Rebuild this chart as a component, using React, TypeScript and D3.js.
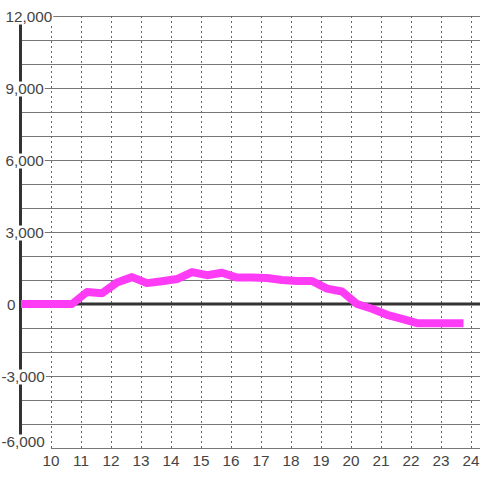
import React, { useEffect, useRef } from "react";
import * as d3 from "d3";

const hours: number[] = [9.0, 9.2, 9.7, 10.2, 10.7, 11.2, 11.7, 12.2, 12.7, 13.2, 13.7, 14.2, 14.7, 15.2, 15.7, 16.2, 16.7, 17.2, 17.7, 18.2, 18.7, 19.2, 19.7, 20.2, 20.7, 21.2, 21.7, 22.2, 22.7, 23.2, 23.75];
const values: number[] = [0, 0, 0, 0, 0, 500, 450, 900, 1120, 870, 950, 1040, 1330, 1200, 1300, 1100, 1100, 1080, 1000, 960, 960, 640, 520, 0, -200, -450, -620, -800, -800, -800, -800];
const xTicks: number[] = [10, 11, 12, 13, 14, 15, 16, 17, 18, 19, 20, 21, 22, 23, 24];
const yLabelTicks: number[] = [12000, 9000, 6000, 3000, 0, -3000, -6000];
const yGridTicks: number[] = d3.range(-6000, 12001, 1000);

export default function App() {
  const ref = useRef<SVGSVGElement>(null);
  useEffect(() => {
    const svg = d3.select(ref.current);
    svg.selectAll("*").remove();
    const x = d3.scaleLinear().domain([9, 24.3]).range([21, 480]);
    const y = d3.scaleLinear().domain([-6000, 12000]).range([448, 16]);
    const fmt = d3.format(",");

    // horizontal grid
    svg.append("g").selectAll("line").data(yGridTicks.filter(v => v !== 0)).join("line")
      .attr("x1", v => (v === -6000 ? x(10) : 20)).attr("x2", 480)
      .attr("y1", v => y(v) + 0.5).attr("y2", v => y(v) + 0.5)
      .attr("stroke", "#777").attr("stroke-width", 1);

    // vertical dashed grid
    svg.append("g").selectAll("line").data(xTicks).join("line")
      .attr("x1", v => Math.round(x(v)) + 0.5).attr("x2", v => Math.round(x(v)) + 0.5)
      .attr("y1", y(12000)).attr("y2", y(-6000))
      .attr("stroke", "#666").attr("stroke-width", 1).attr("stroke-dasharray", "2,3");

    // zero line
    svg.append("line").attr("x1", 20).attr("x2", 480).attr("y1", y(0)).attr("y2", y(0))
      .attr("stroke", "#333").attr("stroke-width", 3);

    // y axis
    svg.append("line").attr("x1", 20.5).attr("x2", 20.5).attr("y1", y(12000)).attr("y2", y(-6000))
      .attr("stroke", "#333").attr("stroke-width", 3);

    // data line
    const line = d3.line<number>().x((_, i) => x(hours[i])).y(d => y(d));
    svg.append("path").datum(values).attr("d", line)
      .attr("fill", "none").attr("stroke", "#ff3cf5").attr("stroke-width", 8)
      .attr("stroke-linejoin", "round");

    // y labels with white backgrounds
    const yl = svg.append("g");
    yLabelTicks.forEach(v => {
      const cy = v === -6000 ? y(v) - 7 : y(v);
      const sx = v < 0 ? 1.5 : v === 0 ? 7 : 5.5;
      const g = yl.append("g");
      const rect = g.append("rect").attr("fill", "#fff");
      const t = g.append("text").attr("x", sx).attr("y", cy + 6)
        .attr("font-family", "'Liberation Sans', Arial, sans-serif").attr("font-size", 15.3)
        .attr("fill", "#444").text(fmt(v).replace("−", "-"));
      const w = (t.node() as SVGTextElement).getComputedTextLength();
      rect.attr("x", sx).attr("y", cy - 6.5).attr("width", w + 1).attr("height", 15);
    });

    // x labels
    svg.append("g").selectAll("text").data(xTicks).join("text")
      .attr("x", v => x(v)).attr("y", 466).attr("text-anchor", "middle")
      .attr("font-family", "'Liberation Sans', Arial, sans-serif").attr("font-size", 15.3)
      .attr("fill", "#444").text(v => String(v));
  }, []);
  return (
    <svg ref={ref} width={480} height={480}
      style={{ position: "absolute", left: 0, top: 0, background: "#fff" }} />
  );
}
